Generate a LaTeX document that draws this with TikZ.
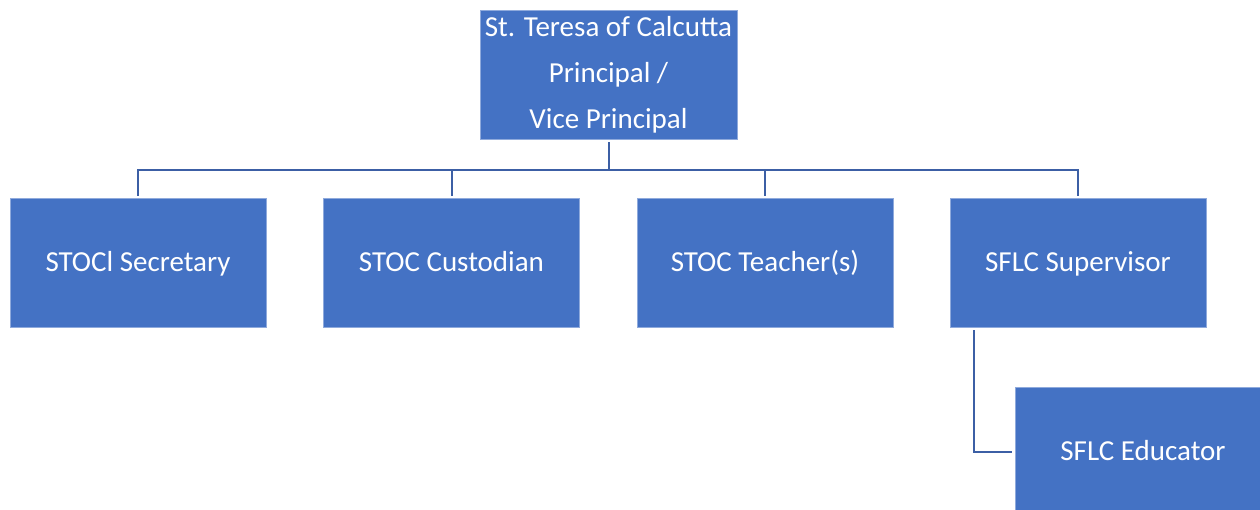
\documentclass[tikz,border=0pt]{standalone}
\usepackage{fontspec}
\setmainfont{Carlito}
\definecolor{boxblue}{HTML}{4472C4}
\definecolor{boxedge}{HTML}{8FAADC}
\definecolor{linkblue}{HTML}{3C5FA5}
\begin{document}
\begin{tikzpicture}[x=1pt,y=-1pt,
  orgbox/.style={draw=boxedge, line width=0.8pt, fill=boxblue, text=white,
    minimum width=256pt, minimum height=129pt, inner sep=0pt,
    font=\fontsize{29}{46}\selectfont, align=center},
  onebox/.style={orgbox, text height=20pt, text depth=2pt},
  link/.style={draw=linkblue, line width=2pt}]
\useasboundingbox (0,0) rectangle (1260,510);
\node[orgbox, minimum width=257pt] (top) at (608.5,74.5) {St. Teresa of Calcutta\\Principal /\\Vice Principal};
\node[onebox] (b1) at (138,262.5) {STOCl Secretary};
\node[onebox] (b2) at (451.5,262.5) {STOC Custodian};
\node[onebox] (b3) at (765,262.5) {STOC Teacher(s)};
\node[onebox] (b4) at (1078,262.5) {SFLC Supervisor};
\node[onebox] (edu) at (1143,451.5) {SFLC Educator};
\foreach \c in {b1,b2,b3,b4}{
  \draw[link] ([yshift=-3pt]top.south) -- ++(0,28) -| ([yshift=2pt]\c.north);
}
\coordinate (s4) at ([xshift=24pt,yshift=-3pt]b4.south west);
\draw[link] (s4) |- ([xshift=-3pt]edu.west);
\end{tikzpicture}
\end{document}
